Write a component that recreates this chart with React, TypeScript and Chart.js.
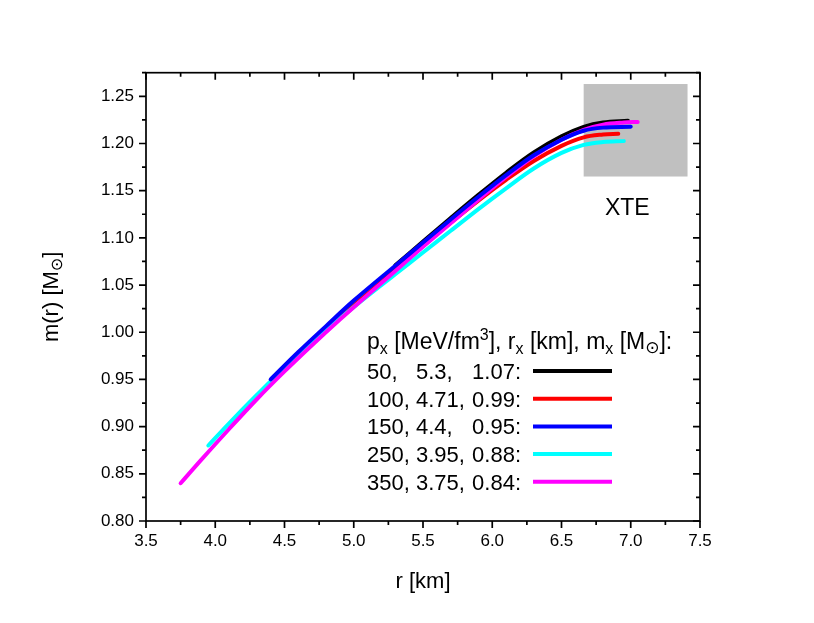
import React, { useEffect, useRef } from "react";
import { Chart, registerables } from "chart.js";

Chart.register(...registerables);

const FONT = '"Liberation Sans", Arial, "DejaVu Sans", sans-serif';

// axis ranges
const xRange = [3.5, 7.5];
const yRange = [0.8, 1.275];
const xMajorStep = 0.5;
const yMajorStep = 0.05;

// legend columns
const pxValues = ["50", "100", "150", "250", "350"];
const rxValues = ["5.3", "4.71", "4.4", "3.95", "3.75"];
const mxValues = ["1.07", "0.99", "0.95", "0.88", "0.84"];
const seriesColors = ["#000000", "#ff0000", "#0000ff", "#00ffff", "#ff00ff"];
const drawOrder = [5, 4, 1, 3, 2];

// p_x = 50
const r50 = [5.3, 5.5, 5.7, 5.9, 6.1, 6.3, 6.5, 6.66, 6.8, 6.98];
const m50 = [1.071, 1.096, 1.121, 1.1455, 1.169, 1.1905, 1.2075, 1.2175, 1.2222, 1.224];
// p_x = 100
const r100 = [4.71, 4.9, 5.1, 5.3, 5.5, 5.7, 5.9, 6.1, 6.3, 6.5, 6.66, 6.8, 6.91];
const m100 = [0.99, 1.0155, 1.041, 1.066, 1.0915, 1.116, 1.1395, 1.1615, 1.1815, 1.1975, 1.2065, 1.2095, 1.2103];
// p_x = 150
const r150 = [4.4, 4.6, 4.8, 5.0, 5.3, 5.5, 5.7, 5.9, 6.1, 6.3, 6.5, 6.66, 6.8, 7.0];
const m150 = [0.95, 0.979, 1.0065, 1.0335, 1.0705, 1.095, 1.1195, 1.1435, 1.1665, 1.1875, 1.204, 1.2135, 1.2168, 1.2178];
// p_x = 250
const r250 = [3.95, 4.1, 4.3, 4.5, 4.7, 4.9, 5.1, 5.3, 5.5, 5.7, 5.9, 6.1, 6.3, 6.5, 6.66, 6.8, 6.95];
const m250 = [0.88, 0.9035, 0.9335, 0.9625, 0.989, 1.0145, 1.0385, 1.0615, 1.0845, 1.1075, 1.1305, 1.1525, 1.1735, 1.19, 1.1985, 1.2015, 1.2025];
// p_x = 350
const r350 = [3.75, 3.9, 4.1, 4.3, 4.5, 4.7, 4.9, 5.1, 5.3, 5.5, 5.7, 5.9, 6.1, 6.3, 6.5, 6.66, 6.8, 6.95, 7.05];
const m350 = [0.84, 0.865, 0.8975, 0.929, 0.9585, 0.9865, 1.0135, 1.0395, 1.065, 1.0905, 1.1155, 1.1405, 1.1645, 1.1865, 1.204, 1.2145, 1.22, 1.2222, 1.2228];

const seriesR = [r50, r100, r150, r250, r350];
const seriesM = [m50, m100, m150, m250, m350];

// XTE box
const xteR = [6.66, 7.41];
const xteM = [1.165, 1.263];
const xteLabel = "XTE";
const xteLabelAt = [6.975, 1.131];

const xTitle = "r [km]";

type Seg = { t: string; size?: number; dy?: number };

function drawRich(ctx: CanvasRenderingContext2D, segs: Seg[], x: number, y: number, base: number, align: "left" | "center" | "right") {
  let w = 0;
  for (const s of segs) {
    ctx.font = `${s.size ?? base}px ${FONT}`;
    w += ctx.measureText(s.t).width;
  }
  let cx = align === "left" ? x : align === "center" ? x - w / 2 : x - w;
  ctx.textAlign = "left";
  ctx.textBaseline = "alphabetic";
  for (const s of segs) {
    ctx.font = `${s.size ?? base}px ${FONT}`;
    ctx.fillText(s.t, cx, y + (s.dy ?? 0));
    cx += ctx.measureText(s.t).width;
  }
}

const decorPlugin = {
  id: "decor",
  beforeDatasetsDraw(chart: any) {
    const { ctx, scales } = chart;
    const x = scales.x, y = scales.y;
    const x0 = x.getPixelForValue(xteR[0]);
    const x1 = x.getPixelForValue(xteR[1]);
    const y0 = y.getPixelForValue(xteM[1]);
    const y1 = y.getPixelForValue(xteM[0]);
    ctx.save();
    ctx.fillStyle = "#c0c0c0";
    ctx.fillRect(x0, y0, x1 - x0, y1 - y0);
    ctx.fillStyle = "#000";
    ctx.font = `23px ${FONT}`;
    ctx.textAlign = "center";
    ctx.textBaseline = "middle";
    ctx.fillText(xteLabel, x.getPixelForValue(xteLabelAt[0]), y.getPixelForValue(xteLabelAt[1]));
    ctx.restore();
  },
  afterDraw(chart: any) {
    const { ctx, chartArea: a, scales } = chart;
    const x = scales.x, y = scales.y;
    ctx.save();
    ctx.strokeStyle = "#000";
    ctx.lineWidth = 1.7;
    ctx.lineCap = "butt";
    // frame
    ctx.strokeRect(a.left, a.top, a.right - a.left, a.bottom - a.top);
    const MAJ = 7, MIN = 4;
    ctx.beginPath();
    const nx = Math.round((xRange[1] - xRange[0]) / (xMajorStep / 2));
    for (let i = 0; i <= nx; i++) {
      const v = xRange[0] + i * (xMajorStep / 2);
      const px = x.getPixelForValue(v);
      const len = i % 2 === 0 ? MAJ : MIN;
      ctx.moveTo(px, a.bottom);
      ctx.lineTo(px, a.bottom + len);
      ctx.moveTo(px, a.top);
      ctx.lineTo(px, a.top + len);
    }
    const ny = Math.floor((yRange[1] - yRange[0]) / (yMajorStep / 2) + 1e-6);
    for (let i = 0; i <= ny; i++) {
      const v = yRange[0] + i * (yMajorStep / 2);
      const py = y.getPixelForValue(v);
      const len = i % 2 === 0 ? MAJ : MIN;
      ctx.moveTo(a.left, py);
      ctx.lineTo(a.left - len, py);
      ctx.moveTo(a.right, py);
      ctx.lineTo(a.right - len, py);
    }
    ctx.stroke();

    // y title
    ctx.fillStyle = "#000";
    ctx.save();
    ctx.translate(50, (a.top + a.bottom) / 2);
    ctx.rotate(-Math.PI / 2);
    drawRich(ctx, [{ t: "m(r) [M" }, { t: "\u2299", size: 16, dy: 4 }, { t: "]" }], 0, 7.6, 22, "center");
    ctx.restore();

    // legend
    const lx = 367;
    drawRich(
      ctx,
      [
        { t: "p" },
        { t: "x", size: 16, dy: 5 },
        { t: " [MeV/fm" },
        { t: "3", size: 16, dy: -9 },
        { t: "], r" },
        { t: "x", size: 16, dy: 5 },
        { t: " [km], m" },
        { t: "x", size: 16, dy: 5 },
        { t: " [M" },
        { t: "\u2299", size: 17, dy: 4 },
        { t: "]:" },
      ],
      lx,
      348.5,
      23,
      "left"
    );
    const rowY0 = 371;
    const rowDy = 27.7;
    for (let i = 0; i < pxValues.length; i++) {
      const cy = rowY0 + i * rowDy;
      const by = cy + 8;
      drawRich(ctx, [{ t: pxValues[i] + "," }], lx, by, 22, "left");
      drawRich(ctx, [{ t: rxValues[i] + "," }], 416, by, 22, "left");
      drawRich(ctx, [{ t: mxValues[i] + ":" }], 521, by, 22, "right");
      ctx.strokeStyle = seriesColors[i];
      ctx.lineWidth = 4;
      ctx.beginPath();
      ctx.moveTo(533, cy);
      ctx.lineTo(612, cy);
      ctx.stroke();
    }
    ctx.restore();
  },
};

export default function App() {
  const ref = useRef<HTMLCanvasElement | null>(null);
  useEffect(() => {
    if (!ref.current) return;
    const datasets = seriesR.map((rs, i) => ({
      label: pxValues[i],
      data: rs.map((r, j) => ({ x: r, y: seriesM[i][j] })),
      borderColor: seriesColors[i],
      backgroundColor: seriesColors[i],
      borderWidth: 4,
      pointRadius: 0,
      pointHoverRadius: 0,
      fill: false,
      tension: 0.35,
      borderCapStyle: "round" as const,
      borderJoinStyle: "round" as const,
      order: drawOrder[i],
    }));
    const chart = new Chart(ref.current, {
      type: "line",
      data: { datasets },
      options: {
        responsive: false,
        animation: false,
        events: [],
        layout: { padding: { top: 72.7, right: 114, left: 0, bottom: 0 } },
        plugins: { legend: { display: false }, tooltip: { enabled: false }, title: { display: false } },
        scales: {
          x: {
            type: "linear",
            min: xRange[0],
            max: xRange[1],
            afterFit: (s: any) => {
              s.height = 102;
            },
            ticks: {
              stepSize: xMajorStep,
              color: "#000",
              font: { family: FONT, size: 17 },
              padding: 3,
              maxRotation: 0,
              autoSkip: false,
              callback: (v: any) => Number(v).toFixed(1),
            },
            grid: { display: false, drawTicks: true, tickLength: 7 },
            border: { display: false },
            title: {
              display: true,
              text: xTitle,
              color: "#000",
              font: { family: FONT, size: 22 },
              padding: { top: 0, bottom: 28 },
            },
          },
          y: {
            type: "linear",
            min: yRange[0],
            max: yRange[1],
            afterFit: (s: any) => {
              s.width = 146;
            },
            ticks: {
              stepSize: yMajorStep,
              includeBounds: false,
              color: "#000",
              font: { family: FONT, size: 17 },
              padding: 5,
              autoSkip: false,
              callback: (v: any) => Number(v).toFixed(2),
            },
            grid: { display: false, drawTicks: true, tickLength: 7 },
            border: { display: false },
          },
        },
      },
      plugins: [decorPlugin],
    });
    return () => chart.destroy();
  }, []);
  return (
    <div style={{ position: "fixed", left: 0, top: 0, width: 814, height: 623, background: "#fff" }}>
      <canvas ref={ref} width={814} height={623} style={{ display: "block" }} />
    </div>
  );
}
